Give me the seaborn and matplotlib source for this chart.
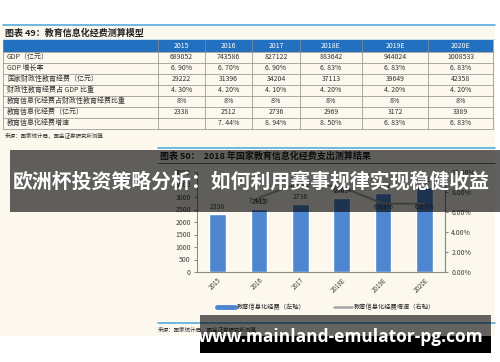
import numpy as np
import pandas as pd
import matplotlib
matplotlib.use('Agg')
import matplotlib.pyplot as plt
from matplotlib.patches import Rectangle
from matplotlib.lines import Line2D
import seaborn as sns

# table / chart data
years = ["2015", "2016", "2017", "2018E", "2019E", "2020E"]
gdp = ["689052", "743586", "827122", "883642", "944024", "1008533"]
gdp_growth = ["6. 90%", "6. 70%", "6. 90%", "6. 83%", "6. 83%", "6. 83%"]
edu_fiscal = ["29222", "31396", "34204", "37113", "39649", "42358"]
edu_fiscal_gdp = ["4. 30%", "4. 20%", "4. 10%", "4. 20%", "4. 20%", "4. 20%"]
info_share = ["8%", "8%", "8%", "8%", "8%", "8%"]
info_spend = [2338, 2512, 2736, 2969, 3172, 3389]
growth_years = ["2016", "2017", "2018E", "2019E", "2020E"]
info_growth = [7.44, 8.94, 8.50, 6.83, 6.83]
row_labels = ["GDP（亿元）", "GDP 增长率", "国家财政性教育经费（亿元）",
              "财政性教育经费占 GDP 比重", "教育信息化经费占财政性教育经费比重",
              "教育信息化经费（亿元）", "教育信息化经费增速"]

title1 = "图表 49：教育信息化经费测算模型"
title2 = "图表 50：  2018 年国家教育信息化经费支出测算结果"
source = "来源：国家统计局，国金证券研究所测算"
legend_labels = ["教育信息化经费（左轴）", "教育信息化经费增速（右轴）"]
banner = "欧洲杯投资策略分析：如何利用赛事规律实现稳健收益"
url = "www.mainland-emulator-pg.com"

CREAM = "#FCF8EE"
HEAD = "#2470C0"
LBLUE = "#56ABDD"
BAR = "#4E86CF"
GREY = "#A5A5A5"
TXT = "#333333"

sns.set_style("white")
plt.rcParams['font.family'] = ['Noto Sans CJK SC', 'DejaVu Sans']

W, H = 500, 362
fig = plt.figure(figsize=(W / 100, H / 100), dpi=100)

# background layer in pixel coords
bg = fig.add_axes([0, 0, 1, 1])
bg.set_xlim(0, W)
bg.set_ylim(H, 0)
bg.axis('off')
bg.add_patch(Rectangle((0, 25), 495, 311, color=CREAM, lw=0))
bg.plot([3, 495], [25, 25], color=LBLUE, lw=1.2)
bg.text(5, 33, title1, fontsize=6.5, fontweight='bold', va='center', color="#222222")
bg.plot([3, 495], [39, 39], color="#BFDDEE", lw=0.6)

# table
col_edges = [3, 158, 205, 252, 300, 362, 428, 493]
head_top, head_bot, row_h = 40, 51.5, 11
bg.add_patch(Rectangle((col_edges[0], head_top), col_edges[-1] - col_edges[0],
                       head_bot - head_top, color=HEAD, lw=0))
rows = [gdp, gdp_growth, edu_fiscal, edu_fiscal_gdp, info_share,
        [str(v) for v in info_spend], [""] + ["%d. %02d%%" % (int(g), round(g * 100) % 100) for g in info_growth]]
for j, y in enumerate(years):
    cx = (col_edges[j + 1] + col_edges[j + 2]) / 2
    bg.text(cx, (head_top + head_bot) / 2, y, fontsize=5, color="white",
            ha='center', va='center')
n = len(rows)
bottom = head_bot + n * row_h
for i in range(n + 1):
    yy = head_bot + i * row_h
    bg.plot([col_edges[0], col_edges[-1]], [yy, yy], color="#8A8A8A", lw=0.5)
for x in col_edges:
    bg.plot([x, x], [head_top, bottom], color="#8A8A8A", lw=0.5)
for i, (lab, vals) in enumerate(zip(row_labels, rows)):
    cy = head_bot + (i + 0.5) * row_h
    bg.text(7, cy, lab, fontsize=5, va='center', color=TXT)
    for j, v in enumerate(vals):
        cx = (col_edges[j + 1] + col_edges[j + 2]) / 2
        bg.text(cx, cy, v, fontsize=5, ha='center', va='center', color=TXT)
bg.text(5, 136, source, fontsize=4, va='center', color=TXT)

bg.plot([158, 495], [148, 148], color=LBLUE, lw=1.2)
bg.text(160, 156, title2, fontsize=6.5, fontweight='bold', va='center', color="#222222")
bg.plot([158, 495], [163, 163], color="#555555", lw=0.6)
bg.plot([158, 495], [323, 323], color=LBLUE, lw=1.2)
bg.text(158, 330, source, fontsize=4, va='center', color=TXT)

# chart
ax = fig.add_axes([197 / W, 1 - 272 / H, 248 / W, 100 / H])
ax.set_zorder(2)
ax.patch.set_visible(False)
df = pd.DataFrame({"year": years, "spend": info_spend})
sns.barplot(data=df, x="year", y="spend", color=BAR, saturation=1, width=0.4, ax=ax)
ax.bar_label(ax.containers[0], fontsize=5, padding=2, color="#404040")
ax.set_ylim(0, 4000)
ax.set_xlim(-0.5, len(years) - 0.5)
ax.set_yticks(range(0, 4001, 500))
ax.set_xlabel("")
ax.set_ylabel("")
ax.set_xticks(np.arange(-0.5, len(years)), minor=True)
ax.tick_params(axis='x', which='major', length=0, labelsize=4.5, pad=3, labelcolor="#404040")
ax.tick_params(axis='x', which='minor', length=2.5, color="#8C8C8C", direction='out')
ax.tick_params(axis='y', length=2.5, color="#8C8C8C", direction='out', labelsize=5,
               labelcolor="#404040", pad=2, left=True)
plt.setp(ax.get_xticklabels(), rotation=45, ha='right', rotation_mode='anchor')
for s in ["top"]:
    ax.spines[s].set_visible(False)
for s in ["left", "bottom", "right"]:
    ax.spines[s].set_color("#8C8C8C")
    ax.spines[s].set_linewidth(0.8)

ax2 = ax.twinx()
ax2.set_zorder(3)
ax2.patch.set_visible(False)
gdf = pd.DataFrame({"pos": [years.index(y) for y in growth_years], "growth": info_growth})
sns.lineplot(data=gdf, x="pos", y="growth", color=GREY, lw=1.4, ax=ax2)
for p, g in zip(gdf["pos"], gdf["growth"]):
    ax2.text(p, g - 0.3, "%.2f%%" % g, fontsize=5, ha='center', va='center', color="#404040")
ax2.set_ylim(0, 10)
ax2.set_yticks(range(0, 11, 2))
ax2.set_yticklabels(["%.2f%%" % v for v in range(0, 11, 2)])
ax2.set_xlabel("")
ax2.set_ylabel("")
ax2.tick_params(axis='y', length=2.5, color="#8C8C8C", direction='out', labelsize=5,
                labelcolor="#404040", pad=2, right=True)
for s in ["top", "left", "bottom"]:
    ax2.spines[s].set_visible(False)
ax2.spines["right"].set_color("#8C8C8C")
ax2.spines["right"].set_linewidth(0.8)

handles = [Line2D([0], [0], color=BAR, lw=3.5), Line2D([0], [0], color=GREY, lw=1.8)]
fig.legend(handles, legend_labels, loc='center', bbox_to_anchor=(326 / W, 1 - 307 / H),
           ncol=2, fontsize=4.5, frameon=False, handlelength=2.9, handletextpad=0.3,
           columnspacing=4.5)

# overlay banners
top = fig.add_axes([0, 0, 1, 1])
top.set_zorder(10)
top.patch.set_visible(False)
top.set_xlim(0, W)
top.set_ylim(H, 0)
top.axis('off')
top.add_patch(Rectangle((10, 150), 490, 62, color="black", alpha=0.62, lw=0))
top.text(251, 181, banner, fontsize=14.3, fontweight='bold', color="white",
         ha='center', va='center')
top.add_patch(Rectangle((200, 315), 291, 21, color="black", alpha=0.6, lw=0))
top.add_patch(Rectangle((200, 336), 291, 17, color="black", lw=0))
top.text(341, 337, url, fontsize=12.5, fontweight='bold', color="white",
         ha='center', va='center', family='Open Sans')

fig.savefig("out.png", dpi=100)
